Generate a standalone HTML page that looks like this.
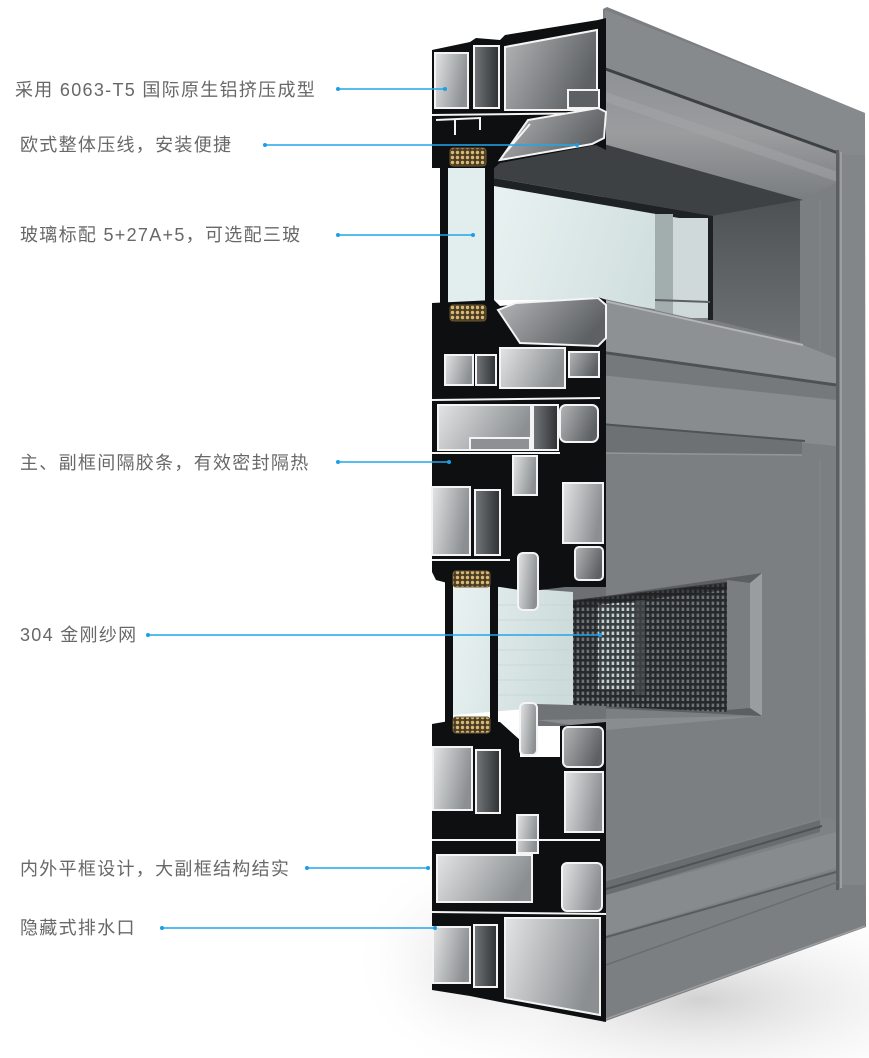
<!DOCTYPE html>
<html><head><meta charset="utf-8">
<style>
html,body{margin:0;padding:0;background:#fff;}
#wrap{position:relative;width:869px;height:1058px;overflow:hidden;background:#fff;}
svg{position:absolute;left:0;top:0;}
.lbl{position:absolute;left:20px;font-family:"Liberation Sans","Noto Sans CJK SC",sans-serif;font-size:18px;letter-spacing:1.3px;line-height:20px;color:#686868;white-space:nowrap;}
</style></head>
<body><div id="wrap">
<svg width="869" height="1058" viewBox="0 0 869 1058" xmlns="http://www.w3.org/2000/svg">
<defs>
 <radialGradient id="floor" cx="0.5" cy="0.5" r="0.5">
  <stop offset="0" stop-color="#d2d2d2"/><stop offset="1" stop-color="#ffffff" stop-opacity="0"/>
 </radialGradient>
 <linearGradient id="gL" x1="0" y1="0" x2="1" y2="0.3">
  <stop offset="0" stop-color="#e2e4e5"/><stop offset="1" stop-color="#8c8f91"/>
 </linearGradient>
 <linearGradient id="gM" x1="0" y1="0" x2="1" y2="0.4">
  <stop offset="0" stop-color="#b4b6b8"/><stop offset="1" stop-color="#5e6163"/>
 </linearGradient>
 <linearGradient id="gD" x1="0" y1="0" x2="1" y2="0">
  <stop offset="0" stop-color="#74777a"/><stop offset="1" stop-color="#2e3133"/>
 </linearGradient>
 <linearGradient id="glass" x1="0" y1="0" x2="1" y2="0.2">
  <stop offset="0" stop-color="#e8f2f1"/><stop offset="1" stop-color="#cddbdb"/>
 </linearGradient>
 <linearGradient id="wall" x1="0" y1="0" x2="0" y2="1">
  <stop offset="0" stop-color="#4d5153"/><stop offset="1" stop-color="#6e7274"/>
 </linearGradient>
 <linearGradient id="mould" x1="0" y1="0" x2="0" y2="1">
  <stop offset="0" stop-color="#8e9193"/><stop offset="0.5" stop-color="#9a9c9e"/><stop offset="1" stop-color="#7a7d7f"/>
 </linearGradient>
 <pattern id="gold" width="5" height="5" patternUnits="userSpaceOnUse">
  <rect width="5" height="5" fill="#4a3c22"/><circle cx="2.5" cy="2.5" r="1.7" fill="#d8b875"/>
 </pattern>
 <pattern id="meshD" width="5" height="6" patternUnits="userSpaceOnUse">
  <rect width="5" height="6" fill="#26292c"/><rect x="1.6" y="1.6" width="2.6" height="3.4" fill="#6f7376"/>
 </pattern>
 <pattern id="meshL" width="5" height="6" patternUnits="userSpaceOnUse">
  <rect width="5" height="6" fill="#3a3e41"/><rect x="1.6" y="1.6" width="2.6" height="3.4" fill="#c3d0d0"/>
 </pattern>
</defs>

<!-- floor shadow -->
<ellipse cx="700" cy="1000" rx="330" ry="110" fill="url(#floor)"/>
<ellipse cx="470" cy="960" rx="120" ry="110" fill="url(#floor)" opacity="0.6"/>

<!-- main face -->
<path d="M603,9 L607,7 L865,113 L866,927 L603,1022 Z" fill="#7c7f82"/>
<!-- top flat band -->
<path d="M605,10 L865,113 L865,160 L838,153 L600,67 Z" fill="#878a8c"/>
<!-- top moulding -->
<path d="M600,67 L838,153 L838,182 L803,200 L600,143 Z" fill="url(#mould)"/>
<path d="M600,90 L838,172 L838,182 L600,100 Z" fill="#a3a5a7" opacity="0.5"/>
<line x1="600" y1="67" x2="838" y2="153" stroke="#3e4143" stroke-width="3"/>
<!-- right frame strip -->
<rect x="842" y="155" width="23" height="730" fill="#838689"/>
<rect x="836" y="150" width="3" height="740" fill="#5c5f61"/>
<rect x="840" y="152" width="2" height="736" fill="#9c9ea0"/>
<line x1="820" y1="200" x2="820" y2="860" stroke="#848788" stroke-width="1"/>

<!-- upper opening: ceiling -->
<path d="M494,160 L600,143 L803,200 L713,216 L494,178 Z" fill="#3d4143"/>
<path d="M494,178 L713,216 L713,224 L494,188 Z" fill="#1f2224"/>
<!-- right wall -->
<path d="M713,216 L800,200 L800,342 L713,320 Z" fill="url(#wall)"/>
<!-- glass -->
<path d="M494,186 L708,223 L708,318 L600,300 L494,300 Z" fill="url(#glass)"/>
<rect x="448" y="164" width="38" height="142" fill="#e2eeed"/>
<rect x="655" y="214" width="18" height="104" fill="#a2adae"/>
<rect x="673" y="218" width="35" height="100" fill="#cfd9d9"/>
<rect x="708" y="220" width="5" height="100" fill="#1e2123"/>
<line x1="655" y1="300" x2="710" y2="302" stroke="#5b6062" stroke-width="2"/>

<!-- transom -->
<path d="M600,298 L800,342 L836,356 L836,460 L600,455 Z" fill="#7c7f82"/>
<path d="M600,300 L803,345 L836,358 L836,385 L600,352 Z" fill="#8e9193"/>
<line x1="600" y1="300" x2="803" y2="345" stroke="#b2b4b6" stroke-width="2"/>
<line x1="600" y1="352" x2="836" y2="385" stroke="#4f5254" stroke-width="3"/>
<path d="M600,354 L836,387 L836,400 L600,375 Z" fill="#76797b"/>
<path d="M600,375 L836,400 L836,446 L600,423 Z" fill="#898c8e"/>
<path d="M600,423 L802,440 L802,455 L600,453 Z" fill="#6e7173"/>
<line x1="600" y1="424" x2="805" y2="441" stroke="#505355" stroke-width="2"/>
<line x1="600" y1="453" x2="802" y2="455" stroke="#939597" stroke-width="1.5"/>

<!-- screen opening -->
<path d="M537,588 L606,584 L606,602 L537,608 Z" fill="#6d7073"/>
<path d="M537,606 L762,573 L762,716 L537,705 Z" fill="#5c5f62"/>
<path d="M727,580 L750,583 L750,708 L727,710 Z" fill="#7b7e81"/>
<path d="M750,583 L762,573 L762,716 L750,708 Z" fill="#9a9d9f"/>
<path d="M573,601 L727,583 L727,712 L573,705 Z" fill="url(#meshD)"/>
<rect x="598" y="603" width="37" height="87" fill="url(#meshL)"/>
<rect x="635" y="600" width="10" height="95" fill="#45484b" opacity="0.7"/>
<path d="M573,600 L727,582 L727,590 L573,608 Z" fill="#1c1e20" opacity="0.6"/>
<!-- lower glass -->
<path d="M453,583 L573,592 L573,705 L453,715 Z" fill="url(#glass)"/>
<g stroke="#c4d3d3" stroke-width="1" opacity="0.7">
<line x1="498" y1="605" x2="573" y2="605"/><line x1="498" y1="620" x2="573" y2="620"/><line x1="498" y1="635" x2="573" y2="635"/><line x1="498" y1="650" x2="573" y2="650"/><line x1="498" y1="665" x2="573" y2="665"/><line x1="498" y1="680" x2="573" y2="680"/><line x1="498" y1="695" x2="573" y2="695"/>
</g>
<path d="M537,704 L606,706 L606,726 L537,726 Z" fill="#707376"/>
<path d="M537,720 L762,716 L606,730 Z" fill="#8a8d8f"/>

<!-- lower moulding on face -->
<path d="M603,880 L820,818 L836,820 L836,870 L603,938 Z" fill="#7f8284"/>
<path d="M603,882 L820,820 L820,832 L603,896 Z" fill="#6a6d6f"/>
<line x1="603" y1="890" x2="822" y2="826" stroke="#4f5254" stroke-width="2"/>
<path d="M603,896 L836,832 L836,868 L603,936 Z" fill="#888b8d"/>
<line x1="603" y1="938" x2="836" y2="872" stroke="#5a5d5f" stroke-width="2"/>
<line x1="603" y1="966" x2="838" y2="882" stroke="#6a6d6f" stroke-width="1.5"/>
<line x1="603" y1="1020" x2="865" y2="926" stroke="#9a9c9e" stroke-width="1.5"/>

<!-- ===== cross-section ===== -->
<path d="M432,50 L470,42 L476,38 L500,40 L505,35 L598,20 L606,18 L606,150 L596,145 L500,163 L494,168 L432,168 Z" fill="#0d0f10"/>
<rect x="440" y="160" width="8" height="145" fill="#0d0f10"/>
<rect x="485" y="140" width="9" height="168" fill="#0d0f10"/>
<path d="M432,303 L494,300 L500,306 L598,297 L606,300 L606,587 L565,587 L540,590 L520,590 L500,587 L455,585 L436,580 L432,572 Z" fill="#0d0f10"/>
<rect x="445" y="578" width="8" height="145" fill="#0d0f10"/>
<rect x="490" y="578" width="8" height="148" fill="#0d0f10"/>
<path d="M432,724 L455,720 L500,722 L520,740 L520,757 L560,757 L560,726 L606,722 L606,1022 L500,1002 L470,996 L432,990 Z" fill="#0d0f10"/>

<g stroke="#f4f4f4" stroke-width="2">
 <rect x="435" y="53" width="33" height="55" fill="url(#gL)"/>
 <rect x="474" y="46" width="25" height="62" fill="url(#gD)"/>
 <path d="M505,47 L597,30 L597,110 L505,110 Z" fill="url(#gM)"/>
 <rect x="568" y="90" width="31" height="18" fill="#5d6062"/>
 <line x1="432" y1="115" x2="606" y2="113" fill="none"/>
 <path d="M436,120 L480,118 L480,130 M455,120 L455,135" fill="none"/>
 <path d="M500,160 L528,120 L598,108 L606,112 L604,138 L592,144 Z" fill="url(#gM)"/>
 <path d="M506,152 L530,124" fill="none"/>
 <path d="M498,310 L516,303 L598,298 L606,305 L606,338 L598,346 L520,343 Z" fill="url(#gM)"/>
 <rect x="445" y="355" width="28" height="30" fill="url(#gL)"/>
 <rect x="476" y="355" width="20" height="30" fill="url(#gD)"/>
 <rect x="500" y="348" width="65" height="40" fill="url(#gL)"/>
 <rect x="569" y="352" width="30" height="25" fill="url(#gM)"/>
 <rect x="438" y="405" width="93" height="45" fill="url(#gL)"/>
 <rect x="533" y="405" width="25" height="45" fill="url(#gD)"/>
 <rect x="560" y="405" width="38" height="37" rx="6" fill="url(#gM)"/>
 <rect x="470" y="438" width="60" height="12" fill="#8e9193"/>
 <line x1="432" y1="453" x2="560" y2="453" fill="none"/>
 <rect x="513" y="456" width="24" height="39" fill="url(#gL)"/>
 <rect x="432" y="487" width="38" height="68" fill="url(#gL)"/>
 <rect x="475" y="490" width="25" height="65" fill="url(#gD)"/>
 <rect x="563" y="483" width="40" height="60" fill="url(#gL)"/>
 <rect x="575" y="547" width="28" height="33" rx="4" fill="url(#gM)"/>
 <line x1="432" y1="400" x2="600" y2="398" fill="none"/>
 <line x1="432" y1="560" x2="510" y2="560" fill="none"/>
 <rect x="518" y="553" width="20" height="57" rx="5" fill="url(#gL)"/>
 <rect x="520" y="703" width="17" height="52" rx="5" fill="url(#gL)"/>
 <rect x="433" y="747" width="39" height="63" fill="url(#gL)"/>
 <rect x="476" y="750" width="24" height="63" fill="url(#gD)"/>
 <rect x="563" y="727" width="40" height="40" rx="5" fill="url(#gM)"/>
 <rect x="565" y="772" width="38" height="60" fill="url(#gL)"/>
 <rect x="517" y="815" width="21" height="38" fill="url(#gL)"/>
 <line x1="432" y1="840" x2="600" y2="840" fill="none"/>
 <rect x="437" y="855" width="95" height="47" fill="url(#gL)"/>
 <rect x="562" y="863" width="40" height="48" rx="5" fill="url(#gL)"/>
 <line x1="432" y1="912" x2="606" y2="914" fill="none"/>
 <rect x="433" y="927" width="37" height="56" fill="url(#gL)"/>
 <rect x="474" y="925" width="23" height="62" fill="url(#gD)"/>
 <path d="M505,918 L600,918 L600,1015 L505,998 Z" fill="url(#gL)"/>
</g>

<!-- gaskets -->
<g stroke="#6b5733" stroke-width="1">
 <rect x="450" y="148" width="36" height="18" rx="3" fill="url(#gold)"/>
 <rect x="450" y="305" width="36" height="16" rx="3" fill="url(#gold)"/>
 <rect x="453" y="571" width="37" height="16" rx="3" fill="url(#gold)"/>
 <rect x="453" y="717" width="37" height="16" rx="3" fill="url(#gold)"/>
</g>

<!-- callout lines -->
<g stroke="#22a6ea" stroke-width="1.6">
 <line x1="338" y1="89" x2="445" y2="89"/>
 <line x1="265" y1="145" x2="577" y2="145"/>
 <line x1="338" y1="235" x2="473" y2="235"/>
 <line x1="338" y1="462" x2="449" y2="462"/>
 <line x1="148" y1="635" x2="600" y2="635"/>
 <line x1="307" y1="868" x2="428" y2="868"/>
 <line x1="162" y1="928" x2="435" y2="928"/>
</g>
<g fill="#1b9fe6">
 <circle cx="338" cy="89" r="2"/><circle cx="445" cy="89" r="2"/>
 <circle cx="265" cy="145" r="2"/><circle cx="577" cy="145" r="2"/>
 <circle cx="338" cy="235" r="2"/><circle cx="473" cy="235" r="2"/>
 <circle cx="338" cy="462" r="2"/><circle cx="449" cy="462" r="2"/>
 <circle cx="148" cy="635" r="2"/><circle cx="600" cy="635" r="2"/>
 <circle cx="307" cy="868" r="2"/><circle cx="428" cy="868" r="2"/>
 <circle cx="162" cy="928" r="2"/><circle cx="435" cy="928" r="2"/>
</g>
</svg>

<div class="lbl" style="left:15px;top:80px;">采用 6063-T5 国际原生铝挤压成型</div>
<div class="lbl" style="top:135px;">欧式整体压线，安装便捷</div>
<div class="lbl" style="top:225px;">玻璃标配 5+27A+5，可选配三玻</div>
<div class="lbl" style="top:453px;">主、副框间隔胶条，有效密封隔热</div>
<div class="lbl" style="top:625px;">304 金刚纱网</div>
<div class="lbl" style="top:859px;">内外平框设计，大副框结构结实</div>
<div class="lbl" style="top:918px;">隐藏式排水口</div>
</div></body></html>
